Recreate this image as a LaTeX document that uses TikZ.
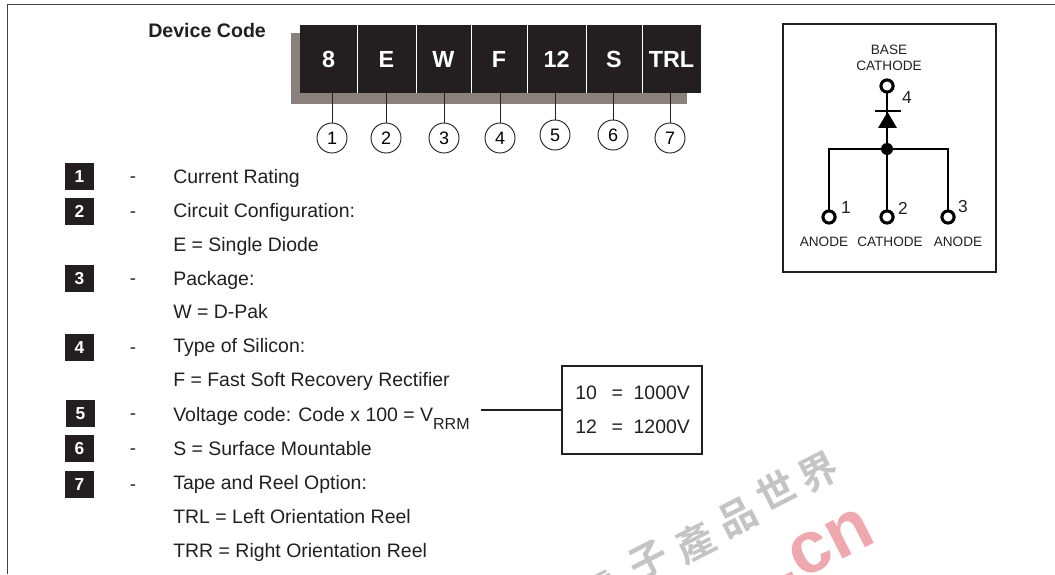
\documentclass[tikz,border=0pt]{standalone}
\usepackage{fontspec}
\setmainfont{Liberation Sans}
\newfontfamily\cjkmark{Noto Sans CJK TC}[BoldFont={* Bold}]
\definecolor{inkblack}{HTML}{231F20}
\definecolor{shadowgray}{HTML}{8A817C}
\definecolor{markgray}{HTML}{C4C4C4}
\definecolor{markpink}{HTML}{EFA8AE}
\tikzset{
  codecell/.style={fill=inkblack,text=white,inner sep=0pt,font=\fontsize{17.5}{17.5}\bfseries},
  keybox/.style={fill=inkblack,text=white,inner sep=0pt,minimum width=21.75pt,minimum height=20.25pt,font=\fontsize{13}{13}\bfseries},
  codering/.style={draw=inkblack,circle,inner sep=0pt,minimum size=22.5pt,line width=0.7pt,font=\fontsize{13.5}{13.5}\selectfont},
  rowtext/.style={anchor=base west,inner sep=0pt,font=\fontsize{14.6}{14.6}\selectfont,text=inkblack},
  pintext/.style={inner sep=0pt,font=\fontsize{10.2}{12}\selectfont,text=inkblack},
  pinnum/.style={inner sep=0pt,font=\fontsize{13}{13}\selectfont,text=inkblack},
  wire/.style={draw=black,line width=1.7pt},
  pin/.style={draw=black,fill=white,circle,inner sep=0pt,minimum size=9pt,line width=2.2pt},
  panel/.style={draw=inkblack,line width=0.9pt,inner sep=0pt}
}

\begin{document}
\begin{tikzpicture}[x=0.75pt,y=-0.75pt]
  \clip (0,0) rectangle (1055,574);

  % Watermark
  \foreach \x/\y/\c [count=\i] in {600/592/電,648/560/子,695/543/產,737/517/品,776/490/世,818/472/界}{
    \node[rotate=27,text=markgray,inner sep=0pt,font=\cjkmark\bfseries\fontsize{29}{29}\selectfont] (mark\i) at (\x,\y) {\c};
  }
  \node[rotate=27,text=markpink,inner sep=0pt,font=\fontsize{55}{55}\bfseries] (markcn) at (822,547.5) {.cn};

  % Page frame
  \draw[draw=inkblack!85,line width=1pt] (1055,4.7)--(7.5,4.7)--(7.5,574);

  % Device code bar
  \node[anchor=base west,inner sep=0pt,font=\fontsize{14.7}{14.7}\bfseries,text=inkblack] (title) at (148,38) {Device Code};
  \fill[shadowgray] (291,33) rectangle (687,104);
  \foreach \xl/\xr/\t [count=\i] in {300/357/8,357/416/E,416/471/W,471/527/F,527/586/12,586/642/S,642/701/TRL\hspace{4.5pt}}{
    \pgfmathsetmacro{\cw}{(\xr-\xl)*0.75}
    \node[codecell,minimum width=\cw pt,minimum height=51pt] (cell\i) at ({(\xl+\xr)/2},59) {\t};
  }
  \foreach \i in {1,...,6}{
    \draw[white,line width=0.5pt] (cell\i.north east)--(cell\i.south east);
  }

  % Numbered rings under the bar
  \foreach \x/\y [count=\i] in {332/138,386/138,444/138,500/138,555/135,613/135,670/138}{
    \node[codering] (ring\i) at (\x,\y) {\i};
    \draw[inkblack,line width=0.7pt] (ring\i.north)--(ring\i |- cell\i.south);
  }

  % Key boxes and dashes
  \foreach \x/\y [count=\i] in {79.5/176.5,79.5/211.5,79.5/278.5,79.5/347.5,80.5/413.5,79.5/448.5,79.5/484.5}{
    \node[keybox] (key\i) at (\x,\y) {\i};
    \node[inner sep=0pt,yshift=-2.2pt,font=\fontsize{14}{14}\selectfont,text=inkblack] (dash\i) at (133,\y) {-};
  }

  % Legend rows
  \foreach \y/\t [count=\i] in {
    183/Current Rating,
    217/Circuit Configuration:,
    251/E = Single Diode,
    285/Package:,
    318/W = D-Pak,
    352/Type of Silicon:,
    386/F = Fast Soft Recovery Rectifier,
    421/{Voltage code: Code x 100 = V\raisebox{-6pt}{\fontsize{12}{12}\selectfont RRM}},
    455/S = Surface Mountable,
    489/Tape and Reel Option:,
    523/TRL = Left Orientation Reel,
    557/TRR = Right Orientation Reel}{
    \node[rowtext] (row\i) at (173,\y) {\t};
  }

  % Voltage table
  \node[panel,minimum width=105pt,minimum height=66pt] (vbox) at (632,410) {};
  \node[rowtext] (v10) at (575,399) {10\hspace{11pt}=\hspace{8pt}1000V};
  \node[rowtext] (v12) at (575,433) {12\hspace{11pt}=\hspace{8pt}1200V};
  \coordinate (vstart) at (481,410);
  \draw[inkblack,line width=0.8pt] (vstart)--(vbox.west);

  % Schematic panel
  \node[panel,minimum width=159.75pt,minimum height=186pt] (schem) at (889.5,148) {};
  \node[pintext,align=center] (base) at (889,57.5) {BASE\\CATHODE};
  \node[pin] (pin4) at (887,86) {};
  \node[pin] (pin1) at (829,217) {};
  \node[pin] (pin2) at (887,217) {};
  \node[pin] (pin3) at (948,217) {};
  \node[fill=black,circle,inner sep=0pt,minimum size=9pt] (junc) at (887,149) {};
  \draw[wire] (pin4)--(junc);
  \draw[wire] (pin2)--(junc);
  \draw[wire] (pin1)|-(junc);
  \draw[wire] (pin3)|-(junc);
  \node[pin] at (pin4) {};
  \node[pin] at (pin1) {};
  \node[pin] at (pin2) {};
  \node[pin] at (pin3) {};
  \fill[black] (878,128)--(897,128)--(887.5,112)--cycle;
  \draw[black,line width=1pt] (875,111)--(901,111);

  % Pin labels
  \node[pinnum] (num4) at (907,98) {4};
  \node[pinnum] (num1) at (846,208) {1};
  \node[pinnum] (num2) at (903,208) {2};
  \node[pinnum] (num3) at (963,207) {3};
  \node[pintext] (lab1) at (824,242) {ANODE};
  \node[pintext] (lab2) at (890,242) {CATHODE};
  \node[pintext] (lab3) at (958,242) {ANODE};
\end{tikzpicture}
\end{document}
